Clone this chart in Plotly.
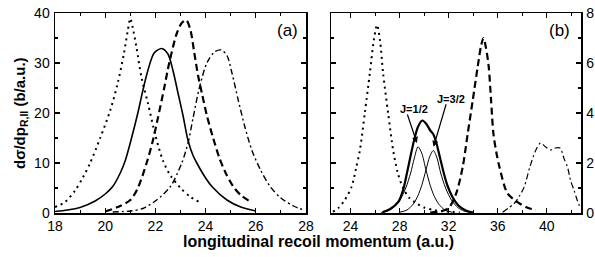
import plotly.graph_objects as go

# ---------------- Panel (a) data ----------------
a_dot_x = [18.0, 18.4, 18.8, 19.1, 19.4, 19.8, 20.2, 20.5, 20.75, 20.9, 21.0, 21.1, 21.25, 21.45, 21.7, 22.0, 22.3, 22.6, 23.0, 23.4, 23.75]
a_dot_y = [1.2, 2.2, 4.5, 7.0, 10.0, 15.0, 20.5, 26.0, 32.0, 36.5, 38.9, 37.0, 33.0, 27.0, 22.0, 15.5, 10.5, 7.5, 5.0, 3.2, 2.2]

a_sol_x = [18.0, 18.5, 19.0, 19.6, 20.0, 20.3, 20.6, 20.8, 21.05, 21.3, 21.5, 21.7, 21.95, 22.25, 22.5, 22.7, 22.9, 23.1, 23.3, 23.5, 23.65, 24.0, 24.25, 24.85, 25.4, 26.0]
a_sol_y = [0.3, 0.6, 1.1, 2.4, 3.8, 5.3, 8.0, 10.5, 15.0, 20.0, 24.5, 28.5, 32.0, 32.9, 31.8, 28.5, 24.0, 19.5, 14.5, 11.5, 10.0, 7.0, 5.3, 2.6, 1.2, 0.4]

a_dash_x = [20.0, 20.5, 21.0, 21.3, 21.65, 21.9, 22.1, 22.35, 22.55, 22.85, 23.05, 23.23, 23.4, 23.55, 23.7, 23.85, 24.05, 24.3, 24.55, 24.8, 25.1, 25.4, 25.77]
a_dash_y = [0.3, 1.2, 2.6, 5.0, 10.0, 14.5, 19.0, 25.0, 30.0, 35.9, 38.0, 38.6, 36.5, 32.0, 27.5, 24.0, 19.5, 15.0, 11.0, 8.0, 5.3, 3.6, 2.3]

a_dd_x = [20.3, 21.0, 21.5, 22.05, 22.6, 23.05, 23.3, 23.5, 23.75, 24.05, 24.35, 24.62, 24.85, 25.05, 25.3, 25.55, 25.84, 26.2, 26.57, 27.0, 27.5, 27.96]
a_dd_y = [0.2, 0.4, 0.9, 2.6, 5.3, 10.0, 14.0, 19.0, 25.0, 30.0, 32.2, 32.6, 31.5, 28.0, 22.6, 17.5, 12.6, 8.5, 5.3, 3.0, 1.4, 0.5]

# ---------------- Panel (b) data ----------------
b_dot_x = [22.56, 23.0, 23.5, 24.08, 24.45, 24.76, 25.16, 25.57, 25.92, 26.16, 26.4, 26.65, 27.06, 27.47, 27.85, 28.28, 28.8, 29.37, 30.0, 30.8, 31.8, 32.9]
b_dot_y = [0.05, 0.2, 0.5, 1.05, 1.8, 2.52, 4.0, 5.6, 7.0, 7.52, 6.9, 5.6, 4.0, 2.52, 1.6, 1.0, 0.6, 0.39, 0.22, 0.12, 0.06, 0.03]

b_sum_x = [26.6, 27.2, 27.9, 28.3, 28.6, 28.9, 29.2, 29.5, 29.85, 30.2, 30.5, 30.75, 31.0, 31.3, 31.6, 31.9, 32.3, 32.8, 33.4, 34.0]
b_sum_y = [0.03, 0.15, 0.45, 0.95, 1.6, 2.3, 2.95, 3.45, 3.7, 3.55, 3.3, 3.15, 2.8, 2.2, 1.6, 1.1, 0.65, 0.3, 0.1, 0.02]

b_j12_x = [26.5, 27.0, 27.5, 28.0, 28.5, 28.9, 29.2, 29.5, 29.8, 30.15, 30.5, 30.8, 31.2, 31.7, 32.3]
b_j12_y = [0.02, 0.08, 0.22, 0.5, 1.0, 1.6, 2.2, 2.65, 2.4, 1.72, 1.1, 0.7, 0.35, 0.12, 0.03]

b_j32_x = [28.0, 28.6, 29.1, 29.5, 29.8, 30.15, 30.45, 30.75, 31.05, 31.35, 31.75, 32.25, 32.75, 33.25, 33.8]
b_j32_y = [0.03, 0.12, 0.35, 0.7, 1.1, 1.72, 2.25, 2.5, 2.2, 1.6, 1.0, 0.5, 0.22, 0.08, 0.02]

b_dash_x = [30.5, 31.3, 32.0, 32.62, 33.15, 33.56, 33.97, 34.37, 34.65, 34.84, 35.05, 35.27, 35.46, 35.65, 35.9, 36.14, 36.8, 37.76, 38.5, 39.12]
b_dash_y = [0.02, 0.06, 0.2, 0.79, 1.85, 3.19, 4.52, 5.85, 6.7, 7.0, 6.6, 5.85, 4.52, 3.19, 2.4, 1.85, 0.79, 0.39, 0.2, 0.12]

b_dd_x = [36.4, 37.36, 37.8, 38.17, 38.63, 39.12, 39.5, 39.9, 40.3, 40.7, 41.1, 41.4, 41.69, 41.95, 42.24, 42.5, 42.75]
b_dd_y = [0.03, 0.39, 0.7, 1.05, 1.85, 2.52, 2.8, 2.65, 2.52, 2.6, 2.6, 2.2, 1.85, 1.3, 0.9, 0.5, 0.2]

# tick values
a_xticks = [18, 20, 22, 24, 26, 28]
a_yticks = [0, 10, 20, 30, 40]
b_xticks = [24, 28, 32, 36, 40]
b_yticks = [0, 2, 4, 6, 8]

DOT = "2px,4px"
DASH = "7px,4px"
DASHDOT = "6px,3px,2px,3px"

fig = go.Figure()

def add(x, y, xa, ya, dash, width):
    fig.add_trace(go.Scatter(x=x, y=y, xaxis=xa, yaxis=ya, mode="lines",
                             line=dict(color="black", width=width, dash=dash,
                                       shape="spline", smoothing=0.8),
                             showlegend=False, hoverinfo="skip"))

add(a_dot_x, a_dot_y, "x", "y", DOT, 2)
add(a_sol_x, a_sol_y, "x", "y", "solid", 1.6)
add(a_dash_x, a_dash_y, "x", "y", DASH, 2.2)
add(a_dd_x, a_dd_y, "x", "y", DASHDOT, 1.4)

add(b_dot_x, b_dot_y, "x2", "y2", DOT, 2)
add(b_sum_x, b_sum_y, "x2", "y2", "solid", 2.2)
add(b_j12_x, b_j12_y, "x2", "y2", "solid", 1)
add(b_j32_x, b_j32_y, "x2", "y2", "solid", 1)
add(b_dash_x, b_dash_y, "x2", "y2", DASH, 2.2)
add(b_dd_x, b_dd_y, "x2", "y2", DASHDOT, 1.2)

W, H = 595, 257
ydom = [(H - 213) / H, (H - 13) / H]
tickfont = dict(family="Liberation Sans, Arial, sans-serif", size=14, color="black")
common = dict(showline=True, linecolor="black", linewidth=1.5, mirror="allticks",
              ticks="inside", ticklen=5, tickwidth=1.2, tickcolor="black",
              showgrid=False, zeroline=False, tickfont=tickfont, automargin=False)

fig.update_layout(
    template="none",
    width=W, height=H,
    margin=dict(l=0, r=0, t=0, b=0, pad=0, autoexpand=False),
    paper_bgcolor="white", plot_bgcolor="white",
    xaxis=dict(domain=[55 / W, 306 / W], range=[18, 28], tickvals=a_xticks,
               minor=dict(dtick=1, ticks="inside", ticklen=3, tickcolor="black"),
               anchor="y", ticklabelstandoff=0, **common),
    yaxis=dict(domain=ydom, range=[0, 40], tickvals=a_yticks,
               minor=dict(dtick=5, ticks="inside", ticklen=3, tickcolor="black"),
               anchor="x", ticklabelstandoff=1, **common),
    xaxis2=dict(domain=[331 / W, 581 / W], range=[22.4, 42.8], tickvals=b_xticks,
                minor=dict(tickvals=[26, 30, 34, 38, 42], ticks="inside", ticklen=3, tickcolor="black"),
                anchor="y2", ticklabelstandoff=0, **common),
    yaxis2=dict(domain=ydom, range=[0, 8], tickvals=b_yticks, side="right",
                minor=dict(dtick=1, ticks="inside", ticklen=3, tickcolor="black"),
                anchor="x2", ticklabelstandoff=1, **common),
)

bold = dict(family="Liberation Sans, Arial, sans-serif", color="black")
ann = []
ann.append(dict(text="<b>longitudinal recoil momentum (a.u.)</b>", xref="paper", yref="paper",
                x=318 / W, y=1 - 241 / H, xanchor="center", yanchor="middle",
                showarrow=False, font=dict(size=16, **bold)))
ann.append(dict(text="<b>dσ/dp<sub>R,II</sub> (b/a.u.)</b>", xref="paper", yref="paper",
                x=20 / W, y=1 - 113 / H, xanchor="center", yanchor="middle", textangle=-90,
                showarrow=False, font=dict(size=15, **bold)))
ann.append(dict(text="(a)", xref="x", yref="y", x=27.28, y=36.6, showarrow=False,
                xanchor="center", yanchor="middle", font=dict(size=17, **bold)))
ann.append(dict(text="(b)", xref="x2", yref="y2", x=41.02, y=7.32, showarrow=False,
                xanchor="center", yanchor="middle", font=dict(size=17, **bold)))
ann.append(dict(text="<b>J=1/2</b>", xref="x2", yref="y2", x=29.19, y=4.18, showarrow=False,
                xanchor="center", yanchor="middle", font=dict(size=11, **bold)))
ann.append(dict(text="<b>J=3/2</b>", xref="x2", yref="y2", x=32.2, y=4.56, showarrow=False,
                xanchor="center", yanchor="middle", font=dict(size=11, **bold)))
ann.append(dict(text="", xref="x2", yref="y2", x=29.41, y=2.8, ax=-10, ay=-30,
                showarrow=True, arrowhead=2, arrowsize=1, arrowwidth=1.2, arrowcolor="black", standoff=0))
ann.append(dict(text="", xref="x2", yref="y2", x=30.77, y=2.65, ax=13, ay=-44,
                showarrow=True, arrowhead=2, arrowsize=1, arrowwidth=1.2, arrowcolor="black", standoff=0))
fig.update_layout(annotations=ann)

fig.write_html("out.html", config={"displayModeBar": False, "staticPlot": True},
               post_script="document.body.style.margin='0';document.body.style.padding='0';document.body.style.overflow='hidden';")
